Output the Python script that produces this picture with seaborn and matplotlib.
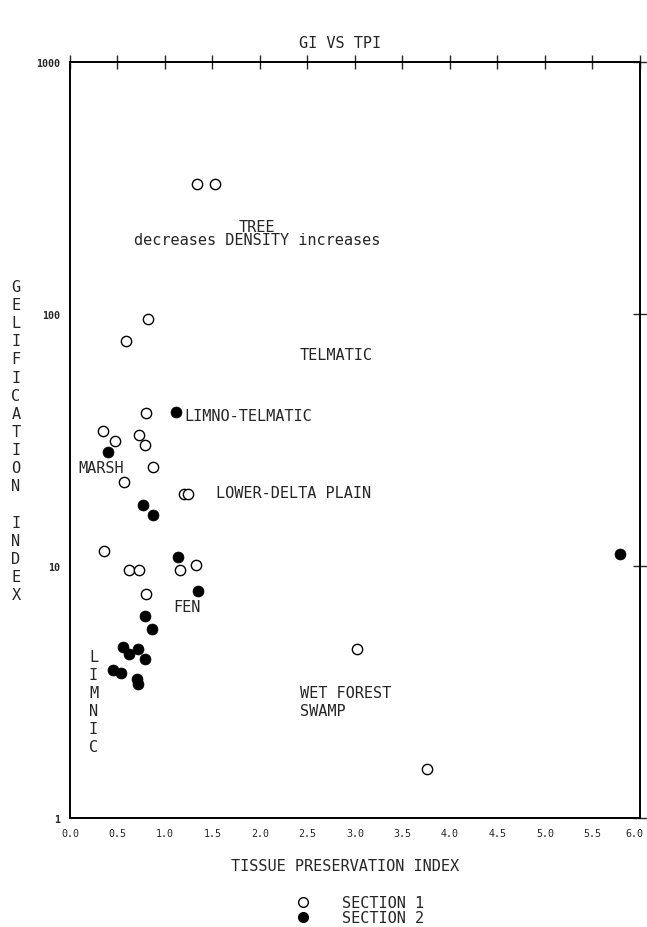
import numpy as np
import pandas as pd
import seaborn as sns
import matplotlib.pyplot as plt
from matplotlib.lines import Line2D
from matplotlib.ticker import FixedLocator, FuncFormatter, NullLocator
from matplotlib.transforms import ScaledTranslation

# section 1 (open circles)
tpi_s1 = [1.34, 1.53, 0.82, 0.59, 0.80, 0.35, 0.48, 0.73, 0.79, 0.87, 0.57,
          1.20, 1.24, 0.36, 0.62, 0.73, 1.16, 1.33, 0.80, 3.02, 3.76]
gi_s1 = [328, 328, 95.5, 78, 40.5, 34.4, 31.3, 33.1, 30.2, 24.7, 21.5,
         19.3, 19.3, 11.5, 9.6, 9.6, 9.6, 10.1, 7.74, 4.7, 1.56]

# section 2 (filled circles)
tpi_s2 = [1.12, 0.40, 0.77, 0.88, 1.14, 1.35, 0.79, 0.86, 0.56, 0.72, 0.62,
          0.79, 0.45, 0.54, 0.71, 0.72, 5.79]
gi_s2 = [40.8, 28.3, 17.5, 15.9, 10.9, 7.96, 6.34, 5.62, 4.78, 4.69, 4.48,
         4.28, 3.87, 3.76, 3.57, 3.40, 11.2]

x_ticks = [0.0, 0.5, 1.0, 1.5, 2.0, 2.5, 3.0, 3.5, 4.0, 4.5, 5.0, 5.5, 6.0]
y_ticks = [1, 10, 100, 1000]

df = pd.concat([
    pd.DataFrame({'tpi': tpi_s1, 'gi': gi_s1, 'section': 'SECTION 1'}),
    pd.DataFrame({'tpi': tpi_s2, 'gi': gi_s2, 'section': 'SECTION 2'}),
])

sns.set_style('white')
plt.rcParams['font.family'] = ['DejaVu Sans Mono']

fig = plt.figure(figsize=(6.47, 9.28), dpi=100)
ax = fig.add_axes([0.108, 0.1175, 0.881, 0.8145])

s1 = df[df['section'] == 'SECTION 1']
s2 = df[df['section'] == 'SECTION 2']
sns.scatterplot(x='tpi', y='gi', data=s1, ax=ax, marker='o', s=55,
                facecolor='white', edgecolor='black', linewidth=1.0, zorder=3)
sns.scatterplot(x='tpi', y='gi', data=s2, ax=ax, marker='o', s=62,
                color='black', edgecolor='black', linewidth=0.5, zorder=3)

ax.set_yscale('log')
ax.set_xlim(0, 6)
ax.set_ylim(1, 1000)
ax.xaxis.set_major_locator(FixedLocator(x_ticks))
ax.yaxis.set_major_locator(FixedLocator(y_ticks))
ax.yaxis.set_minor_locator(NullLocator())
ax.yaxis.set_major_formatter(FuncFormatter(lambda v, p: '%d' % v))
ax.set_xticklabels(['%.1f' % v for v in x_ticks])
ax.tick_params(axis='both', which='major', direction='inout', length=10, width=1,
               top=True, right=True, labelsize=7.2, pad=2)
for lab in ax.get_yticklabels():
    lab.set_fontweight('bold')
# last x label sits right at the page edge, nudge it in a bit
last = ax.get_xticklabels()[-1]
last.set_transform(last.get_transform() + ScaledTranslation(-4 / 72, 0, fig.dpi_scale_trans))
for sp in ax.spines.values():
    sp.set_linewidth(1.4)
    sp.set_color('black')
ax.set_xlabel('')
ax.set_ylabel('')

# zone labels
fs = 11
ax.text(1.97, 223, 'TREE', ha='center', va='center', fontsize=fs)
ax.text(1.97, 197, 'decreases DENSITY increases', ha='center', va='center', fontsize=fs)
ax.text(2.42, 69, 'TELMATIC', ha='left', va='center', fontsize=fs)
ax.text(1.20, 39.4, 'LIMNO-TELMATIC', ha='left', va='center', fontsize=fs)
ax.text(0.09, 24.7, 'MARSH', ha='left', va='center', fontsize=fs)
ax.text(1.54, 19.5, 'LOWER-DELTA PLAIN', ha='left', va='center', fontsize=fs)
ax.text(1.09, 6.9, 'FEN', ha='left', va='center', fontsize=fs)
ax.text(0.20, 4.69, '\n'.join('LIMNIC'), ha='left', va='top', fontsize=fs,
        linespacing=1.25)
ax.text(2.42, 2.90, 'WET FOREST\nSWAMP', ha='left', va='center', fontsize=fs,
        linespacing=1.3)

fig.text(0.526, 1 - 44 / 928, 'GI VS TPI', ha='center', va='center', fontsize=fs)
fig.text(0.533, 1 - 867 / 928, 'TISSUE PRESERVATION INDEX', ha='center',
         va='center', fontsize=fs)
fig.text(16 / 647, 1 - 280 / 928, '\n'.join('GELIFICATION INDEX'), ha='center',
         va='top', fontsize=fs, linespacing=1.26)

handles = [Line2D([], [], marker='o', ls='', markerfacecolor='white',
                  markeredgecolor='black', markersize=7),
           Line2D([], [], marker='o', ls='', markerfacecolor='black',
                  markeredgecolor='black', markersize=7)]
fig.legend(handles, ['SECTION 1', 'SECTION 2'], loc='center',
           bbox_to_anchor=(0.55, 1 - 911 / 928), frameon=False, fontsize=fs,
           handletextpad=1.6, labelspacing=0.0, borderpad=0)

fig.savefig('out.png', dpi=100)
